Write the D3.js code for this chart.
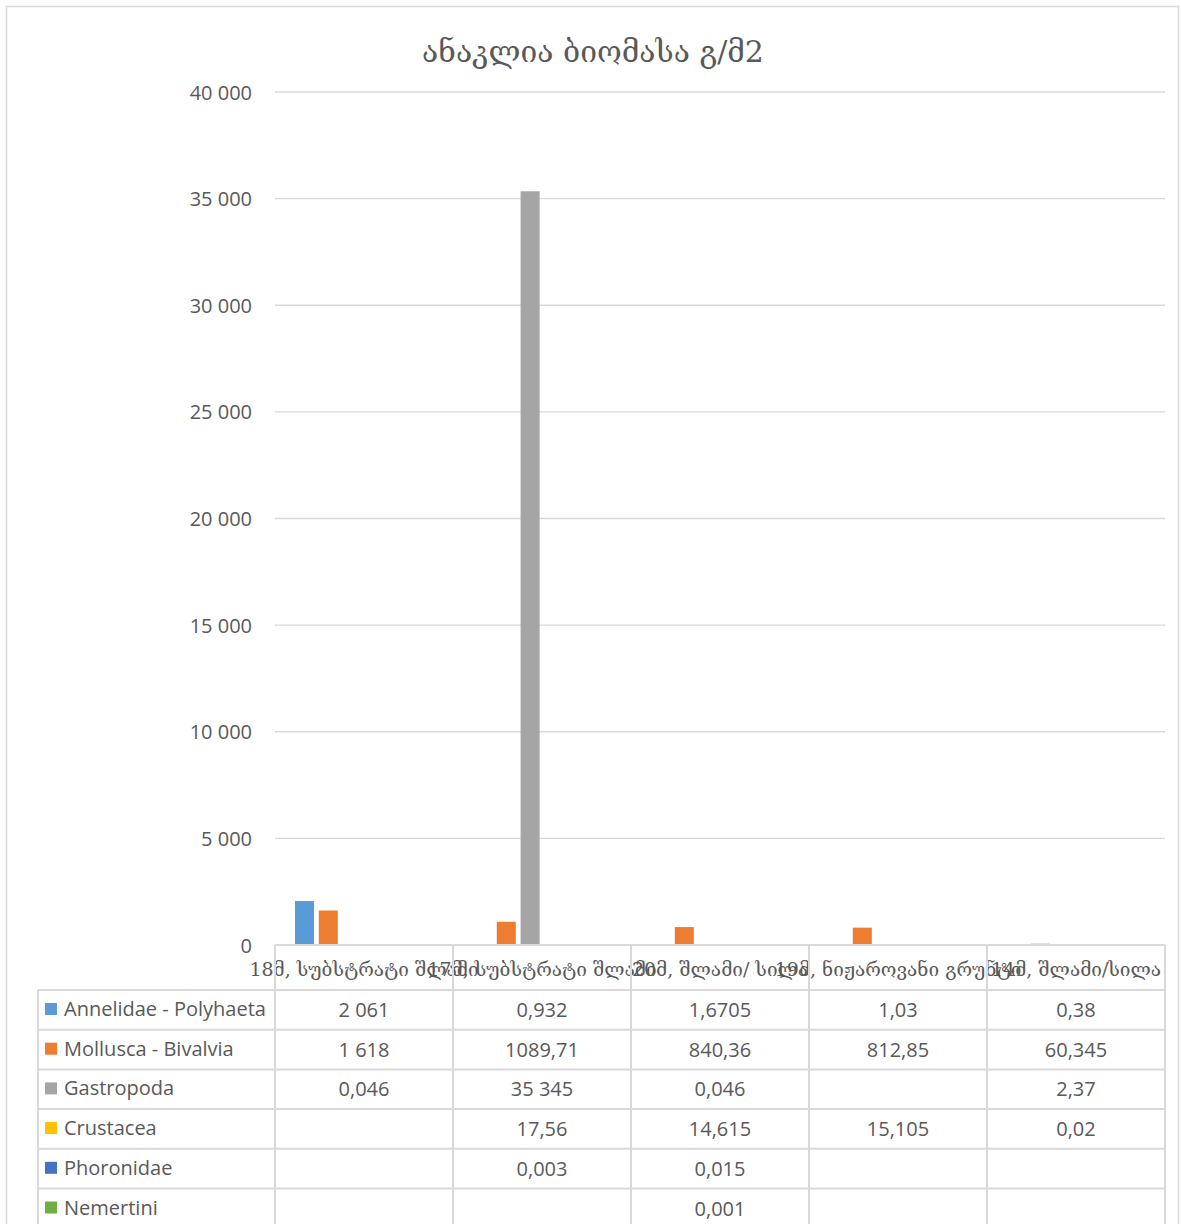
<!DOCTYPE html>
<html>
<head>
<meta charset="utf-8">
<script src="https://cdn.jsdelivr.net/npm/d3@7"></script>
<style>
  html, body { margin: 0; padding: 0; background: #fff; }
  svg text { fill: #595959; }
</style>
</head>
<body>
<svg id="chart" width="1181" height="1224"></svg>
<script>
// Sampling stations (depth, substrate)
const categories = [
  "18მ, სუბსტრატი შლამი",
  "17მ, სუბსტრატი შლამი",
  "20მ, შლამი/ სილა",
  "19მ, ნიჟაროვანი გრუნტი",
  "14მ, შლამი/სილა"
];

// Taxonomic groups
const seriesNames = [
  "Annelidae - Polyhaeta",
  "Mollusca - Bivalvia",
  "Gastropoda",
  "Crustacea",
  "Phoronidae",
  "Nemertini"
];

// Biomass, g/m2 (null = not recorded)
const annelida   = [2061, 0.932, 1.6705, 1.03, 0.38];
const bivalvia   = [1618, 1089.71, 840.36, 812.85, 60.345];
const gastropoda = [0.046, 35345, 0.046, null, 2.37];
const crustacea  = [null, 17.56, 14.615, 15.105, 0.02];
const phoronidae = [null, 0.003, 0.015, null, null];
const nemertini  = [null, null, 0.001, null, null];

const seriesValues = [annelida, bivalvia, gastropoda, crustacea, phoronidae, nemertini];
const colors = ["#5B9BD5", "#ED7D31", "#A5A5A5", "#FFC000", "#4472C4", "#70AD47"];

const yTicks = [0, 5000, 10000, 15000, 20000, 25000, 30000, 35000, 40000];

const title = "ანაკლია ბიომასა გ/მ2";

// ---- layout ----
const svg = d3.select("#chart");
const plotLeft = 275, plotRight = 1165, plotTop = 92, plotBottom = 945;
const tableLeft = 38, rowTop = 990, rowH = 39.7;
const gridColor = "#d9d9d9";
const latinFont = "'Open Sans', 'DejaVu Sans', sans-serif";
const geoFont = "'DejaVu Serif', 'DejaVu Sans', serif";

const locale = d3.formatLocale({ decimal: ",", thousands: "\u00a0", grouping: [3], currency: ["", ""] });
const tickFmt = locale.format(",d");
function cellFmt(v) {
  if (Number.isInteger(v) && v >= 1000) return tickFmt(v);
  return String(v).replace(".", ",");
}

// outer chart frame
svg.append("rect")
  .attr("x", 6.5).attr("y", 6.5).attr("width", 1172).attr("height", 1240)
  .attr("fill", "#fff").attr("stroke", gridColor).attr("stroke-width", 1.5);

// scales
const x0 = d3.scaleBand().domain(categories).range([plotLeft, plotRight]).padding(0);
const x1 = d3.scaleBand().domain(seriesNames).range([20, x0.bandwidth() - 20]).paddingInner(0.2);
const y = d3.scaleLinear().domain([0, 40000]).range([plotBottom, plotTop]);

// title
svg.append("text")
  .attr("x", 593).attr("y", 62)
  .attr("text-anchor", "middle")
  .style("font-family", geoFont).style("font-size", "30px")
  .text(title);

// gridlines
svg.append("g").selectAll("line")
  .data(yTicks.filter(d => d > 0))
  .join("line")
  .attr("x1", plotLeft).attr("x2", plotRight)
  .attr("y1", d => y(d)).attr("y2", d => y(d))
  .attr("stroke", gridColor).attr("stroke-width", 1.3);

// y axis labels
const yAxis = d3.axisLeft(y).tickValues(yTicks).tickFormat(tickFmt).tickSize(0).tickPadding(0);
const gy = svg.append("g").attr("transform", `translate(${plotLeft - 23},0)`).call(yAxis);
gy.select(".domain").remove();
gy.selectAll("text")
  .style("font-family", latinFont).style("font-size", "20px")
  .attr("fill", "#595959").attr("dy", "0.35em");

// bars
const groups = svg.append("g").selectAll("g")
  .data(categories)
  .join("g")
  .attr("transform", d => `translate(${x0(d)},0)`);

groups.selectAll("rect")
  .data((c, ci) => seriesNames.map((s, si) => ({ s, si, v: seriesValues[si][ci] })).filter(d => d.v != null))
  .join("rect")
  .attr("x", d => x1(d.s))
  .attr("width", x1.bandwidth())
  .attr("y", d => y(d.v))
  .attr("height", d => y(0) - y(d.v))
  .attr("fill", d => colors[d.si]);

// category axis line
svg.append("line")
  .attr("x1", plotLeft).attr("x2", plotRight).attr("y1", plotBottom).attr("y2", plotBottom)
  .attr("stroke", gridColor).attr("stroke-width", 2);

// category labels (header of data table)
svg.append("g").selectAll("text")
  .data(categories)
  .join("text")
  .attr("x", d => x0(d) + x0.bandwidth() / 2)
  .attr("y", 976)
  .attr("text-anchor", "middle")
  .style("font-family", geoFont).style("font-size", "19px")
  .text(d => d);

// data table grid
const nRows = seriesNames.length;
const tableG = svg.append("g").attr("stroke", gridColor).attr("stroke-width", 2);
// vertical lines for category columns
tableG.selectAll("line.v")
  .data(x0.domain().map(d => x0(d)).concat([plotRight]))
  .join("line").attr("class", "v")
  .attr("x1", d => d).attr("x2", d => d)
  .attr("y1", plotBottom).attr("y2", 1240);
// left legend column edge
tableG.append("line")
  .attr("x1", tableLeft).attr("x2", tableLeft)
  .attr("y1", rowTop).attr("y2", 1240);
// horizontal row lines
tableG.selectAll("line.h")
  .data(d3.range(nRows + 1))
  .join("line").attr("class", "h")
  .attr("x1", tableLeft).attr("x2", plotRight)
  .attr("y1", i => rowTop + i * rowH).attr("y2", i => rowTop + i * rowH);

// legend keys and series names
const rows = svg.append("g").selectAll("g")
  .data(seriesNames)
  .join("g")
  .attr("transform", (d, i) => `translate(0,${rowTop + i * rowH})`);

rows.append("rect")
  .attr("x", 45).attr("y", 13).attr("width", 12).attr("height", 12)
  .attr("fill", (d, i) => colors[i]);

rows.append("text")
  .attr("x", 64).attr("y", 26)
  .style("font-family", latinFont).style("font-size", "20px")
  .text(d => d);

// cell values
rows.each(function (s, si) {
  d3.select(this).selectAll("text.cell")
    .data(categories.map((c, ci) => ({ c, v: seriesValues[si][ci] })).filter(d => d.v != null))
    .join("text").attr("class", "cell")
    .attr("x", d => x0(d.c) + x0.bandwidth() / 2)
    .attr("y", 27)
    .attr("text-anchor", "middle")
    .style("font-family", latinFont).style("font-size", "20px")
    .text(d => cellFmt(d.v));
});
</script>
</body>
</html>
